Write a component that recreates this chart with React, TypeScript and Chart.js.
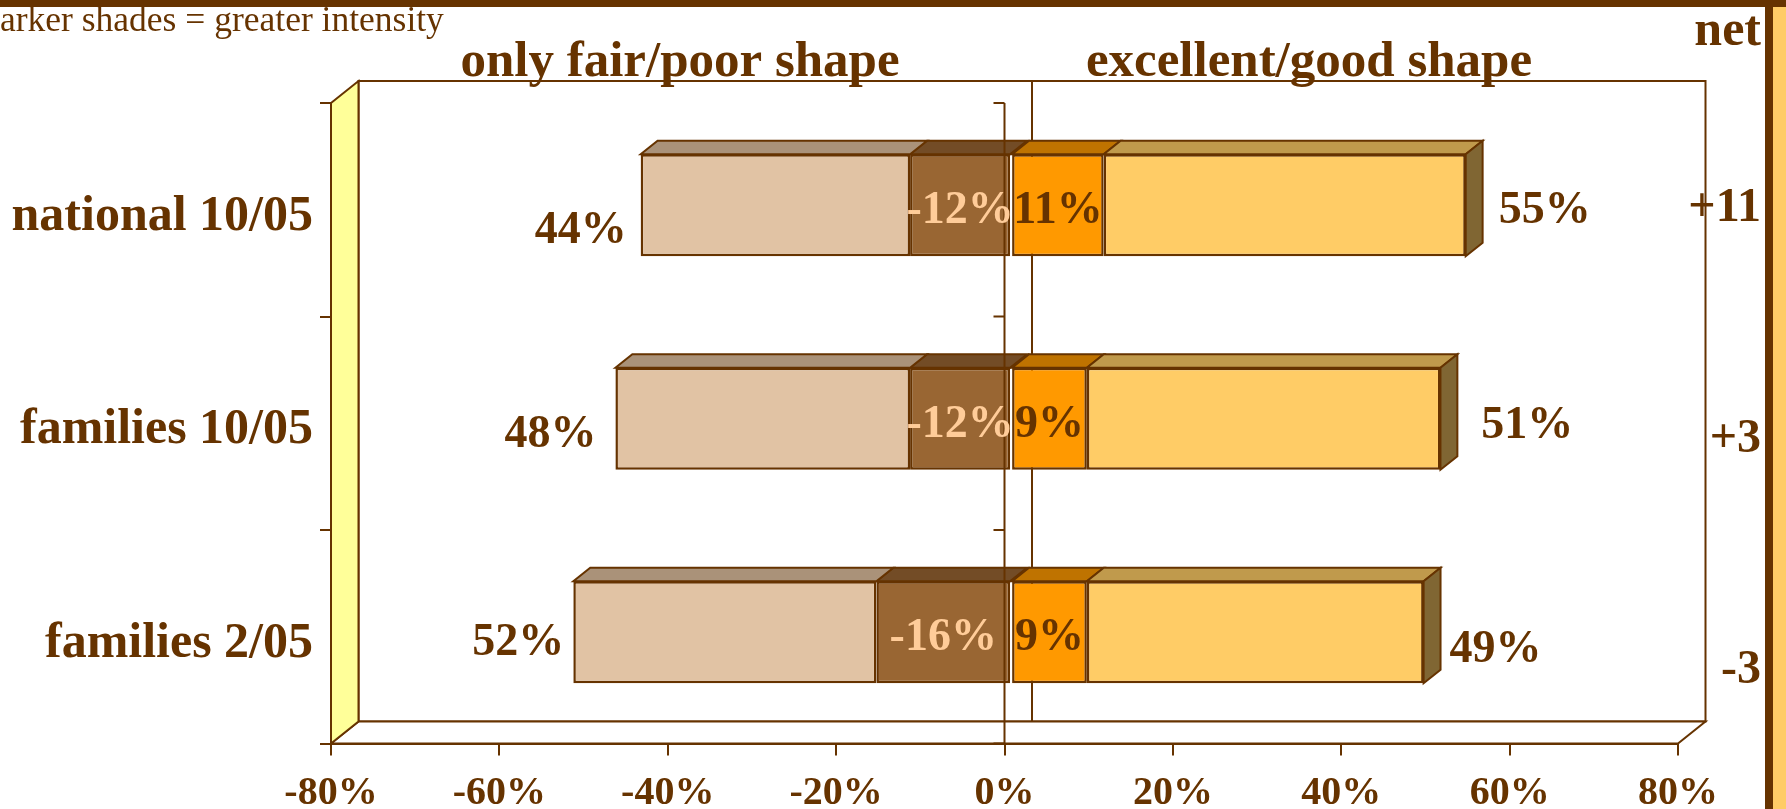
import React, { useEffect, useRef } from "react";
import { Chart, registerables } from "chart.js";

Chart.register(...registerables);

// ---------- data ----------
const categories = ["national 10/05", "families 10/05", "families 2/05"];
const intensePoor = [-12, -12, -16];
const otherPoor = [-32, -35, -36];
const intenseGood = [11, 9, 9];
const otherGood = [43, 42, 40];
const poorTotalLabels = ["44%", "48%", "52%"];
const goodTotalLabels = ["55%", "51%", "49%"];
const intensePoorLabels = ["-12%", "-12%", "-16%"];
const intenseGoodLabels = ["11%", "9%", "9%"];
const netLabels = ["+11", "+3", "-3"];
const xTickValues = [-80, -60, -40, -20, 0, 20, 40, 60, 80];

// ---------- layout / style ----------
const W = 1786;
const H = 809;
const AREA = { left: 331, right: 1678, top: 103, bottom: 743.5 };
const WALL_DX = 27.5;
const WALL_DY = 22;
const BAR_FRONT = 0.24;
const BAR_BACK = 0.855;
const FX = WALL_DX * BAR_FRONT;
const FY = 4.5;
const BDX = WALL_DX * (BAR_BACK - BAR_FRONT);
const BDY = 13.5;
const TEXT_DY = 6;
const BROWN = "#663300";
const FONT = "'Liberation Serif', 'Times New Roman', serif";
const frontColors = ["#996633", "#E1C3A4", "#FF9900", "#FFCC66"];
const topColors = ["#734C26", "#AA9279", "#BF7300", "#C09A4C"];
const sideColor = "#806633";
const leftLabelGap = [14, 19, 9];
const leftLabelDy = [20, 10, 5];
const rightLabelGap = [16, 24, 9];
const rightLabelDy = [0, 1, 12];
const netLabelDy = [-7, 10, 28];

function poly(ctx: CanvasRenderingContext2D, pts: number[][], fill: string | null) {
  ctx.beginPath();
  ctx.moveTo(pts[0][0], pts[0][1]);
  for (let i = 1; i < pts.length; i++) ctx.lineTo(pts[i][0], pts[i][1]);
  ctx.closePath();
  if (fill) {
    ctx.fillStyle = fill;
    ctx.fill();
  }
  ctx.stroke();
}

function barBox(el: any) {
  const p = el.getProps(["x", "y", "base", "height"], true);
  const l = Math.min(p.x, p.base);
  const r = Math.max(p.x, p.base);
  const t = p.y - p.height / 2;
  const b = p.y + p.height / 2;
  return { l, r, t, b, cy: p.y };
}

const threeD = {
  id: "threeD",
  beforeDraw(chart: any) {
    const { ctx, chartArea: a } = chart;
    const xs = chart.scales.x;
    ctx.save();
    // slide frame
    ctx.fillStyle = "#FFCC66";
    ctx.fillRect(1773, 0, W - 1773, H);
    ctx.fillStyle = BROWN;
    ctx.fillRect(0, 0, W, 7);
    ctx.fillRect(1765, 0, 8, H);

    ctx.lineWidth = 2;
    ctx.strokeStyle = BROWN;
    ctx.lineJoin = "miter";
    // back wall
    ctx.fillStyle = "#ffffff";
    ctx.fillRect(a.left + WALL_DX, a.top - WALL_DY, a.right - a.left, a.bottom - a.top);
    ctx.strokeRect(a.left + WALL_DX, a.top - WALL_DY, a.right - a.left, a.bottom - a.top);
    // back zero line
    const x0 = xs.getPixelForValue(0);
    ctx.beginPath();
    ctx.moveTo(x0 + WALL_DX, a.top - WALL_DY);
    ctx.lineTo(x0 + WALL_DX, a.bottom - WALL_DY);
    ctx.stroke();
    // floor
    poly(
      ctx,
      [
        [a.left, a.bottom],
        [a.right, a.bottom],
        [a.right + WALL_DX, a.bottom - WALL_DY],
        [a.left + WALL_DX, a.bottom - WALL_DY],
      ],
      "#ffffff"
    );
    // left wall
    poly(
      ctx,
      [
        [a.left, a.top],
        [a.left + WALL_DX, a.top - WALL_DY],
        [a.left + WALL_DX, a.bottom - WALL_DY],
        [a.left, a.bottom],
      ],
      "#FFFF99"
    );
    ctx.restore();
  },
  beforeDatasetsDraw(chart: any) {
    const ctx = chart.ctx;
    ctx.save();
    ctx.translate(FX, -FY);
    ctx.lineWidth = 2;
    ctx.strokeStyle = BROWN;
    ctx.lineJoin = "miter";
    const last = chart.data.datasets.length - 1;
    chart.data.datasets.forEach((_: any, di: number) => {
      const meta = chart.getDatasetMeta(di);
      meta.data.forEach((el: any) => {
        const { l, r, t, b } = barBox(el);
        poly(ctx, [[l, t], [r, t], [r + BDX, t - BDY], [l + BDX, t - BDY]], topColors[di]);
        if (di === last) {
          poly(ctx, [[r, t], [r + BDX, t - BDY], [r + BDX, b - BDY], [r, b]], sideColor);
        }
      });
    });
  },
  afterDatasetsDraw(chart: any) {
    const ctx = chart.ctx;
    ctx.restore();
    const a = chart.chartArea;
    const xs = chart.scales.x;
    const ys = chart.scales.y;
    const x0 = xs.getPixelForValue(0);
    ctx.save();
    ctx.strokeStyle = BROWN;
    ctx.lineWidth = 2;
    ctx.beginPath();
    ctx.moveTo(x0, a.top);
    ctx.lineTo(x0, a.bottom);
    for (let i = 0; i <= categories.length; i++) {
      const y = ys.getPixelForValue(i - 0.5);
      ctx.moveTo(x0 - 11, y);
      ctx.lineTo(x0, y);
    }
    ctx.stroke();
    ctx.restore();
  },
  afterDraw(chart: any) {
    const ctx = chart.ctx;
    const ys = chart.scales.y;
    ctx.save();
    ctx.textBaseline = "middle";
    const m0 = chart.getDatasetMeta(0);
    const m1 = chart.getDatasetMeta(1);
    const m2 = chart.getDatasetMeta(2);
    const m3 = chart.getDatasetMeta(3);
    ctx.font = `bold 46px ${FONT}`;
    for (let i = 0; i < categories.length; i++) {
      const b0 = barBox(m0.data[i]);
      const b1 = barBox(m1.data[i]);
      const b2 = barBox(m2.data[i]);
      const b3 = barBox(m3.data[i]);
      const cy = b0.cy - FY + TEXT_DY;
      ctx.textAlign = "center";
      ctx.fillStyle = "#FFCC99";
      ctx.fillText(intensePoorLabels[i], (b0.l + b0.r) / 2 + FX, cy);
      ctx.fillStyle = BROWN;
      ctx.fillText(intenseGoodLabels[i], (b2.l + b2.r) / 2 + FX, cy);
      ctx.textAlign = "right";
      ctx.fillText(poorTotalLabels[i], b1.l + FX - leftLabelGap[i], cy + leftLabelDy[i]);
      ctx.textAlign = "left";
      ctx.fillText(goodTotalLabels[i], b3.r + FX + BDX + rightLabelGap[i], cy + rightLabelDy[i]);
      ctx.textAlign = "right";
      ctx.font = `bold 48px ${FONT}`;
      ctx.fillText(netLabels[i], 1761, ys.getPixelForValue(i) + netLabelDy[i] + TEXT_DY);
      ctx.font = `bold 46px ${FONT}`;
    }
    // headers
    ctx.textBaseline = "alphabetic";
    ctx.font = `bold 51px ${FONT}`;
    ctx.fillStyle = BROWN;
    ctx.textAlign = "center";
    ctx.fillText("only fair/poor shape", 680, 76);
    ctx.fillText("excellent/good shape", 1309, 76);
    ctx.textAlign = "right";
    ctx.font = `bold 50px ${FONT}`;
    ctx.fillText("net", 1761, 45);
    ctx.textAlign = "left";
    ctx.font = `35.5px ${FONT}`;
    ctx.fillText("arker shades = greater intensity", 0, 31);
    ctx.restore();
  },
};

export default function App() {
  const ref = useRef<HTMLCanvasElement | null>(null);
  useEffect(() => {
    if (!ref.current) return;
    const mk = (label: string, data: number[], i: number) => ({
      label,
      data,
      backgroundColor: frontColors[i],
      borderColor: BROWN,
      borderWidth: 2.5,
      borderSkipped: false as const,
      categoryPercentage: 0.477,
      barPercentage: 1,
    });
    const chart = new Chart(ref.current, {
      type: "bar",
      data: {
        labels: categories,
        datasets: [
          mk("intense fair/poor", intensePoor, 0),
          mk("fair/poor", otherPoor, 1),
          mk("intense excellent/good", intenseGood, 2),
          mk("excellent/good", otherGood, 3),
        ],
      },
      options: {
        indexAxis: "y",
        responsive: false,
        animation: false,
        devicePixelRatio: 1,
        layout: { padding: { top: AREA.top, right: W - AREA.right, left: 0, bottom: 0 } },
        plugins: { legend: { display: false }, tooltip: { enabled: false }, title: { display: false } },
        scales: {
          x: {
            type: "linear",
            stacked: true,
            min: -80,
            max: 80,
            afterBuildTicks: (scale: any) => {
              scale.ticks = xTickValues.map((v) => ({ value: v }));
            },
            afterFit: (scale: any) => {
              scale.height = H - AREA.bottom;
            },
            grid: { drawOnChartArea: false, tickLength: 12, color: BROWN, lineWidth: 2 },
            border: { display: true, color: BROWN, width: 2 },
            ticks: {
              color: BROWN,
              font: { family: FONT, size: 40, weight: "bold" },
              padding: 14,
              maxRotation: 0,
              callback: (v: any) => `${v}%`,
            },
          },
          y: {
            type: "category",
            stacked: true,
            afterFit: (scale: any) => {
              scale.width = AREA.left;
            },
            grid: { offset: true, drawOnChartArea: false, tickLength: 11, color: BROWN, lineWidth: 2 },
            border: { display: true, color: BROWN, width: 2 },
            ticks: {
              color: BROWN,
              font: { family: FONT, size: 50, weight: "bold" },
              padding: 7,
              labelOffset: 7,
            },
          },
        },
      },
      plugins: [threeD],
    } as any);
    return () => chart.destroy();
  }, []);
  return (
    <div style={{ position: "fixed", left: 0, top: 0, width: W, height: H, background: "#fff" }}>
      <canvas ref={ref} width={W} height={H} style={{ display: "block" }} />
    </div>
  );
}
